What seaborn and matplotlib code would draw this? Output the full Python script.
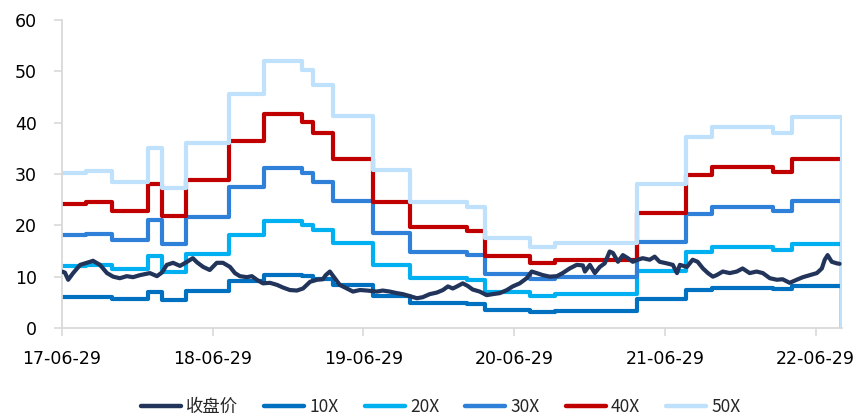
import pandas as pd
import matplotlib
matplotlib.use("Agg")
import matplotlib.pyplot as plt
import matplotlib.dates as mdates
from matplotlib.lines import Line2D
import seaborn as sns

# 收盘价
price_dates = [
    "2017-06-29", "2017-07-06", "2017-07-14", "2017-07-26", "2017-08-12", "2017-09-05",
    "2017-09-12", "2017-09-29", "2017-10-16", "2017-10-31", "2017-11-16", "2017-12-03",
    "2017-12-18", "2018-01-04", "2018-01-28", "2018-02-14", "2018-02-26", "2018-03-10",
    "2018-03-25", "2018-04-11", "2018-04-28", "2018-05-12", "2018-05-22", "2018-06-06",
    "2018-06-22", "2018-07-09", "2018-07-24", "2018-08-10", "2018-08-22", "2018-09-03",
    "2018-09-20", "2018-10-02", "2018-10-14", "2018-10-29", "2018-11-15", "2018-12-02",
    "2018-12-16", "2019-01-02", "2019-01-19", "2019-02-03", "2019-02-20", "2019-03-09",
    "2019-03-23", "2019-03-30", "2019-04-09", "2019-04-21", "2019-05-03", "2019-05-20",
    "2019-06-04", "2019-06-21", "2019-07-08", "2019-08-01", "2019-08-15", "2019-09-01",
    "2019-09-18", "2019-10-03", "2019-10-20", "2019-11-06", "2019-11-20", "2019-12-07",
    "2019-12-24", "2020-01-08", "2020-01-20", "2020-02-01", "2020-02-11", "2020-02-25",
    "2020-03-08", "2020-03-20", "2020-04-06", "2020-04-23", "2020-05-08", "2020-05-25",
    "2020-06-11", "2020-06-25", "2020-07-12", "2020-07-29", "2020-08-10", "2020-08-22",
    "2020-09-06", "2020-09-23", "2020-10-10", "2020-10-24", "2020-11-10", "2020-11-27",
    "2020-12-12", "2020-12-17", "2020-12-29", "2021-01-10", "2021-01-22", "2021-02-03",
    "2021-02-15", "2021-02-23", "2021-03-07", "2021-03-19", "2021-03-31", "2021-04-12",
    "2021-04-24", "2021-05-06", "2021-05-23", "2021-06-04", "2021-06-16", "2021-07-03",
    "2021-07-18", "2021-07-28", "2021-08-04", "2021-08-21", "2021-09-04", "2021-09-16",
    "2021-09-29", "2021-10-11", "2021-10-23", "2021-11-01", "2021-11-16", "2021-12-03",
    "2021-12-20", "2022-01-03", "2022-01-20", "2022-02-06", "2022-02-21", "2022-03-10",
    "2022-03-27", "2022-04-10", "2022-04-27", "2022-05-14", "2022-05-29", "2022-06-15",
    "2022-07-02", "2022-07-14", "2022-07-21", "2022-07-28", "2022-08-07", "2022-08-19",
    "2022-08-26",
]
price = [
    11.0, 10.8, 9.4, 10.7, 12.3, 12.9,
    13.1, 12.3, 10.7, 10.0, 9.7, 10.1,
    9.9, 10.3, 10.7, 10.1, 10.8, 12.3,
    12.7, 12.1, 12.9, 13.6, 12.8, 11.9,
    11.3, 12.7, 12.7, 11.9, 10.7, 10.1,
    9.9, 10.1, 9.4, 8.7, 8.8, 8.4,
    7.9, 7.4, 7.3, 7.7, 9.0, 9.4,
    9.5, 10.3, 11.0, 9.7, 8.4, 7.7,
    7.1, 7.4, 7.3, 7.1, 7.3, 7.1,
    6.8, 6.6, 6.2, 5.8, 6.0, 6.6,
    6.9, 7.4, 8.1, 7.7, 8.1, 8.7,
    8.2, 7.5, 7.1, 6.4, 6.6, 6.8,
    7.4, 8.1, 8.7, 9.7, 11.0, 10.7,
    10.3, 10.0, 10.1, 10.7, 11.6, 12.3,
    12.2, 11.0, 12.3, 10.7, 11.9, 12.6,
    14.9, 14.6, 12.9, 14.2, 13.6, 12.9,
    13.3, 13.6, 13.3, 13.9, 12.9, 12.6,
    12.3, 10.7, 12.3, 11.9, 13.3, 12.9,
    11.6, 10.7, 10.0, 10.3, 11.0, 10.7,
    11.0, 11.6, 10.7, 11.0, 10.7, 9.7,
    9.4, 9.5, 8.8, 9.4, 9.9, 10.3,
    10.7, 11.6, 13.3, 14.2, 12.9, 12.6,
    12.5,
]

# PE band step dates and levels
step_dates = [
    "2017-06-29", "2017-08-26", "2017-10-28", "2018-01-23", "2018-02-26", "2018-04-25",
    "2018-08-07", "2018-10-31", "2019-01-31", "2019-02-27", "2019-04-16", "2019-07-22",
    "2019-10-20", "2020-03-06", "2020-04-18", "2020-08-05", "2020-10-05", "2021-04-22",
    "2021-08-18", "2021-10-20", "2022-03-17", "2022-05-02", "2022-08-31",
]
pe10 = [6.0, 6.1, 5.7, 7.0, 5.5, 7.2, 9.1, 10.4, 10.1, 9.5, 8.3, 6.2,
        4.9, 4.7, 3.5, 3.2, 3.3, 5.6, 7.4, 7.8, 7.6, 8.2, 0]
pe20 = [12.1, 12.2, 11.4, 14.0, 10.9, 14.4, 18.2, 20.8, 20.1, 19.0, 16.5, 12.3,
        9.8, 9.4, 7.0, 6.3, 6.6, 11.2, 14.9, 15.7, 15.2, 16.4, 0]
pe30 = [18.1, 18.4, 17.1, 21.1, 16.4, 21.7, 27.4, 31.2, 30.2, 28.4, 24.8, 18.5,
        14.8, 14.2, 10.5, 9.5, 10.0, 16.8, 22.3, 23.5, 22.8, 24.7, 0]
pe40 = [24.2, 24.5, 22.8, 28.1, 21.8, 28.9, 36.5, 41.6, 40.2, 37.9, 33.0, 24.6,
        19.7, 18.9, 14.0, 12.6, 13.3, 22.4, 29.8, 31.4, 30.4, 32.9, 0]
pe50 = [30.2, 30.6, 28.5, 35.1, 27.3, 36.1, 45.6, 52.0, 50.3, 47.4, 41.3, 30.8,
        24.6, 23.6, 17.5, 15.8, 16.6, 28.0, 37.2, 39.2, 38.0, 41.1, 0]

band_names = ["10X", "20X", "30X", "40X", "50X"]
colors = {
    "收盘价": "#22345A",
    "10X": "#0070C0",
    "20X": "#00B0F0",
    "30X": "#2E80D8",
    "40X": "#C00000",
    "50X": "#BFE1FC",
}
xticks = ["2017-06-29", "2018-06-29", "2019-06-29", "2020-06-29", "2021-06-29", "2022-06-29"]

band_df = pd.concat(
    [pd.DataFrame({"date": pd.to_datetime(step_dates), "value": v, "series": n})
     for n, v in zip(band_names, [pe10, pe20, pe30, pe40, pe50])],
    ignore_index=True,
)
price_df = pd.DataFrame({"date": pd.to_datetime(price_dates), "value": price})

sns.set_theme(style="white")
plt.rcParams["font.family"] = ["DejaVu Sans", "Noto Sans CJK SC"]

fig = plt.figure(figsize=(8.61, 4.16), dpi=100)
ax = fig.add_axes([0.072, 0.2115, 0.906, 0.7405])

sns.lineplot(data=band_df, x="date", y="value", hue="series", hue_order=band_names,
             palette=colors, drawstyle="steps-post", linewidth=3.0, estimator=None,
             legend=False, ax=ax)
sns.lineplot(data=price_df, x="date", y="value", color=colors["收盘价"],
             linewidth=3.0, estimator=None, ax=ax, zorder=5)

ax.set_xlim(pd.Timestamp("2017-06-29"), pd.Timestamp("2022-09-01"))
ax.set_ylim(0, 60)
ax.set_yticks(range(0, 61, 10))
ax.set_xticks(pd.to_datetime(xticks))
ax.xaxis.set_major_formatter(mdates.DateFormatter("%y-%m-%d"))
ax.set_xlabel("")
ax.set_ylabel("")

for s in ["top", "right"]:
    ax.spines[s].set_visible(False)
for s in ["left", "bottom"]:
    ax.spines[s].set_color("#D9D9D9")
    ax.spines[s].set_linewidth(1.3)
ax.tick_params(axis="y", length=6, width=1.2, color="#D9D9D9", pad=12,
               labelsize=12.5, labelcolor="#000000", direction="out", left=True)
ax.tick_params(axis="x", length=6, width=1.2, color="#D9D9D9", pad=10,
               labelsize=12.5, labelcolor="#000000", direction="out", bottom=True)

handles = [Line2D([0], [0], color=colors[n], lw=3.2) for n in ["收盘价"] + band_names]
fig.legend(handles, ["收盘价"] + band_names, loc="center", bbox_to_anchor=(0.512, 0.022),
           ncol=6, frameon=False, handlelength=2.3, handletextpad=0.3,
           columnspacing=1.5, prop={"family": ["Noto Sans CJK SC", "DejaVu Sans"], "size": 12.5})

fig.savefig("out.png", dpi=100)
